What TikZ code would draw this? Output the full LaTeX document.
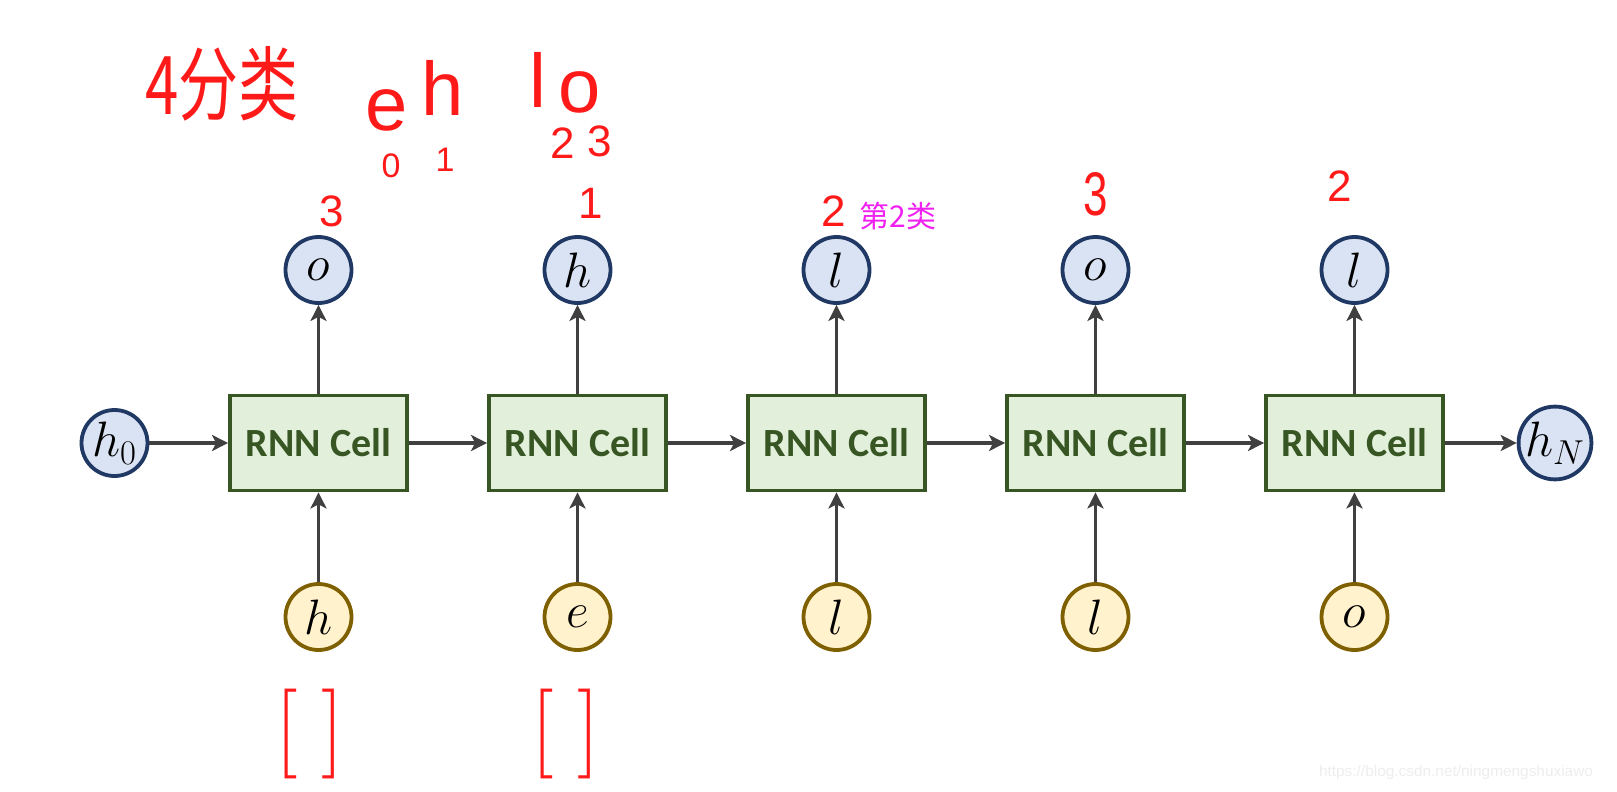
\documentclass[tikz,border=0pt]{standalone}
\usepackage{fontspec}
\setsansfont{Carlito}
\newfontfamily\cjk{Noto Sans CJK SC}
\newfontfamily\hand{Liberation Sans}
\usetikzlibrary{arrows.meta}
\definecolor{cellfill}{HTML}{E2EFDA}
\definecolor{celledge}{HTML}{375623}
\definecolor{outfill}{HTML}{DAE3F3}
\definecolor{outedge}{HTML}{203864}
\definecolor{infill}{HTML}{FFF2CC}
\definecolor{inedge}{HTML}{7F6000}
\definecolor{flowgray}{HTML}{404040}
\definecolor{inkred}{HTML}{FF1A1A}
\definecolor{inkpink}{HTML}{F020F0}

\begin{document}
\begin{tikzpicture}[x=0.5pt,y=-0.5pt,
cell/.style={draw=celledge,fill=cellfill,line width=1.9pt,minimum width=88.5pt,minimum height=47.5pt,
  text=celledge,font=\sffamily\bfseries\fontsize{20}{24}\selectfont},
outnode/.style={circle,draw=outedge,fill=outfill,line width=1.9pt,minimum size=33pt,inner sep=0pt,
  font=\fontsize{23}{26}\selectfont},
innode/.style={outnode,draw=inedge,fill=infill},
flow/.style={draw=flowgray,line width=1.6pt,-{Stealth[length=8pt,width=8pt,inset=2pt]}}]
\tikzstyle{scribble}=[inkred,inner sep=0pt,font=\hand\fontsize{22}{24}\selectfont]
\useasboundingbox (0,0) rectangle (1617,792);

    \foreach \i/\outlbl/\inlbl in {1/o/h,2/h/e,3/l/l,4/o/l,5/l/o} {
        \node[cell] (cell\i) at ({318.5+259*(\i-1)},443) {RNN Cell};
        \node[outnode] (out\i) at ({318.5+259*(\i-1)},270) {$\outlbl$};
        \node[innode] (in\i) at ({318.5+259*(\i-1)},617) {$\inlbl$};
        \draw[flow] (cell\i) -- (out\i);
        \draw[flow] (in\i) -- (cell\i);
    }
    \node[outnode] (h0) at (114.5,443) {$h_0$};
    \node[outnode] (hN) at (1555,443) {$h_N$};
    \foreach \a/\b in {h0/cell1,cell1/cell2,cell2/cell3,cell3/cell4,cell4/cell5,cell5/hN}
        \draw[flow] (\a) -- (\b);

   % hand notes
   \begin{scope}[every node/.style=scribble]
     \node (cls) at (222,84) [yscale=1.35,font=\cjk\fontsize{30}{32}\selectfont] {4分类};
     \node (ce) at (387,110) [font=\hand\fontsize{38}{40}\selectfont] {e};
     \node (ch) at (443,88) [font=\hand\fontsize{38}{40}\selectfont] {h};
     \node (cl) at (538,80) [font=\hand\fontsize{38}{40}\selectfont] {l};
     \node (co) at (580,92) [font=\hand\fontsize{38}{40}\selectfont] {o};
     \node (n0) at (391,166) [font=\hand\fontsize{17}{18}\selectfont] {0};
     \node (n1) at (445,160) [font=\hand\fontsize{17}{18}\selectfont] {1};
     \node (n2) at (563,143) {2};
     \node (n3) at (600,141) {3};
     \node (t1) at (332,211) {3};
     \node (t2) at (591,203) {1};
     \node (t3) at (834,211) {2};
     \node (t4) at (1096,194) [yscale=1.4] {3};
     \node (t5) at (1340,186) {2};
     \node (cls2) at (898,216) [text=inkpink,font=\cjk\fontsize{15}{17}\selectfont] {第2类};
     \node (b1) at (310,734) [font=\fontsize{45}{48}\selectfont] {[\hspace{12pt}]};
     \node (b2) at (566,734) [font=\fontsize{45}{48}\selectfont] {[\hspace{12pt}]};
   \end{scope}
   \node (mark) at (1456,773) [text=black!7,font=\hand\fontsize{7.7}{9}\selectfont] {https://blog.csdn.net/ningmengshuxiawo};

\end{tikzpicture}
\end{document}
